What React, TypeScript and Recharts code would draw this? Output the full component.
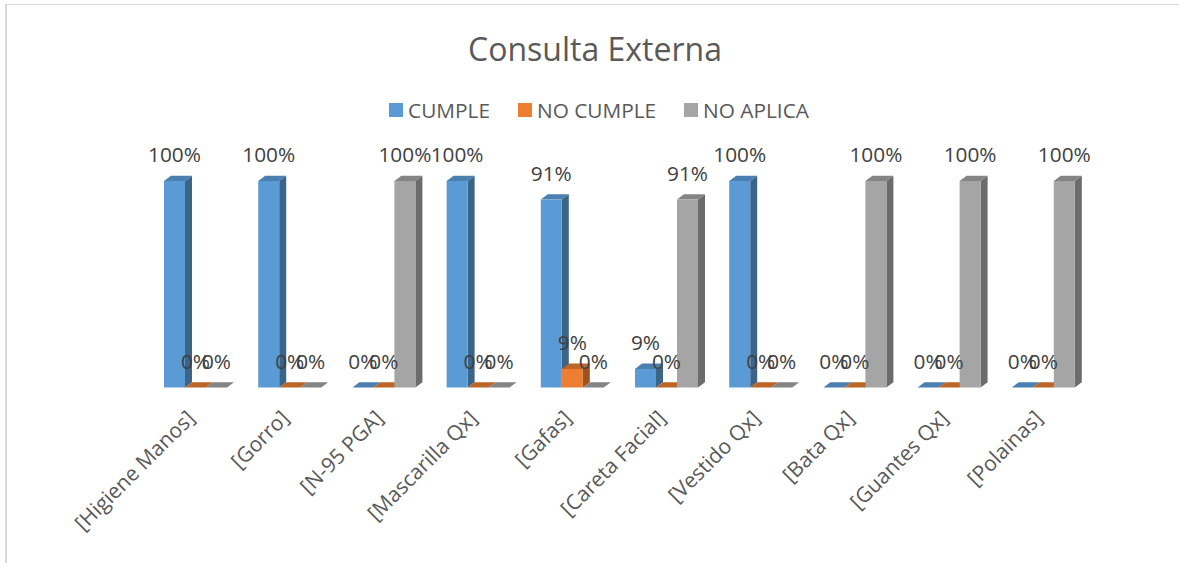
import { BarChart, Bar, XAxis, YAxis, Legend, LabelList } from "recharts";

const categories = [
  "[Higiene Manos]",
  "[Gorro]",
  "[N-95 PGA]",
  "[Mascarilla Qx]",
  "[Gafas]",
  "[Careta Facial]",
  "[Vestido Qx]",
  "[Bata Qx]",
  "[Guantes Qx]",
  "[Polainas]",
];
const cumple = [100, 100, 0, 100, 91, 9, 100, 0, 0, 0];
const noCumple = [0, 0, 0, 0, 9, 0, 0, 0, 0, 0];
const noAplica = [0, 0, 100, 0, 0, 91, 0, 100, 100, 100];

const chartData = categories.map((name, i) => ({
  name,
  cumple: cumple[i],
  noCumple: noCumple[i],
  noAplica: noAplica[i],
}));

const FONT = "'Open Sans', sans-serif";
const DEPTH_X = 7;
const DEPTH_Y = 5.3;

const SERIES = [
  { key: "cumple", label: "CUMPLE", front: "#5b9bd5", top: "#4a7fb0", side: "#3a6488" },
  { key: "noCumple", label: "NO CUMPLE", front: "#ed7d31", top: "#bd6427", side: "#9c521f" },
  { key: "noAplica", label: "NO APLICA", front: "#a5a5a5", top: "#848484", side: "#6c6c6c" },
];

// fake 3d column, excel style
function Column3D(props: any) {
  const { x, y, width, height, colors } = props;
  const r = x + width;
  const b = y + height;
  return (
    <g>
      <polygon
        points={`${r},${y} ${r + DEPTH_X},${y - DEPTH_Y} ${r + DEPTH_X},${b - DEPTH_Y} ${r},${b}`}
        fill={colors.side}
      />
      <polygon
        points={`${x},${y} ${x + DEPTH_X},${y - DEPTH_Y} ${r + DEPTH_X},${y - DEPTH_Y} ${r},${y}`}
        fill={colors.top}
      />
      <rect x={x} y={y} width={width} height={height} fill={colors.front} />
    </g>
  );
}

function ValueLabel(props: any) {
  const { x, y, width, value } = props;
  return (
    <text x={x + width / 2} y={y - 19} textAnchor="middle" fontFamily={FONT} fontSize={20.8} fill="#404040">
      {value}%
    </text>
  );
}

function CategoryTick(props: any) {
  const { x, y, payload } = props;
  return (
    <text
      x={x + 1}
      y={y + 24}
      textAnchor="end"
      transform={`rotate(-45 ${x + 1} ${y + 24})`}
      fontFamily={FONT}
      fontSize={21}
      fill="#595959"
    >
      {payload.value}
    </text>
  );
}

function LegendRow() {
  return (
    <div style={{ display: "flex", justifyContent: "center", fontFamily: FONT, fontSize: 20.8, color: "#595959" }}>
      {SERIES.map((s) => (
        <div key={s.key} style={{ display: "flex", alignItems: "center", margin: "0 14px" }}>
          <span style={{ width: 14, height: 14, background: s.front, marginRight: 5 }} />
          {s.label}
        </div>
      ))}
    </div>
  );
}

export default function App() {
  return (
    <div style={{ position: "fixed", left: 0, top: 0, width: 1179, height: 563, background: "#fff", overflow: "hidden" }}>
      <div
        style={{
          position: "absolute",
          left: 5,
          top: 4,
          width: 1174,
          height: 559,
          borderLeft: "2px solid #d9d9d9",
          borderTop: "1px solid #d9d9d9",
          boxSizing: "border-box",
        }}
      />
      <div
        style={{
          position: "absolute",
          left: 0,
          width: 1190,
          top: 28,
          textAlign: "center",
          fontFamily: FONT,
          fontSize: 32,
          color: "#595959",
          lineHeight: "41px",
        }}
      >
        Consulta Externa
      </div>
      <BarChart
        width={1179}
        height={563}
        data={chartData}
        barSize={21}
        barGap={0}
        style={{ position: "absolute", left: 0, top: 0 }}
        margin={{ left: 148, right: 89, top: 181, bottom: 0 }}
      >
        <XAxis
          dataKey="name"
          interval={0}
          height={175.5}
          axisLine={false}
          tickLine={false}
          tick={<CategoryTick />}
        />
        <YAxis hide domain={[0, 100]} />
        <Legend
          layout="horizontal"
          verticalAlign="middle"
          align="center"
          content={<LegendRow />}
          wrapperStyle={{ top: 96, left: 0, width: 1198 }}
        />
        {SERIES.map((s) => (
          <Bar key={s.key} dataKey={s.key} isAnimationActive={false} shape={<Column3D colors={s} />}>
            <LabelList dataKey={s.key} content={<ValueLabel />} />
          </Bar>
        ))}
      </BarChart>
    </div>
  );
}
